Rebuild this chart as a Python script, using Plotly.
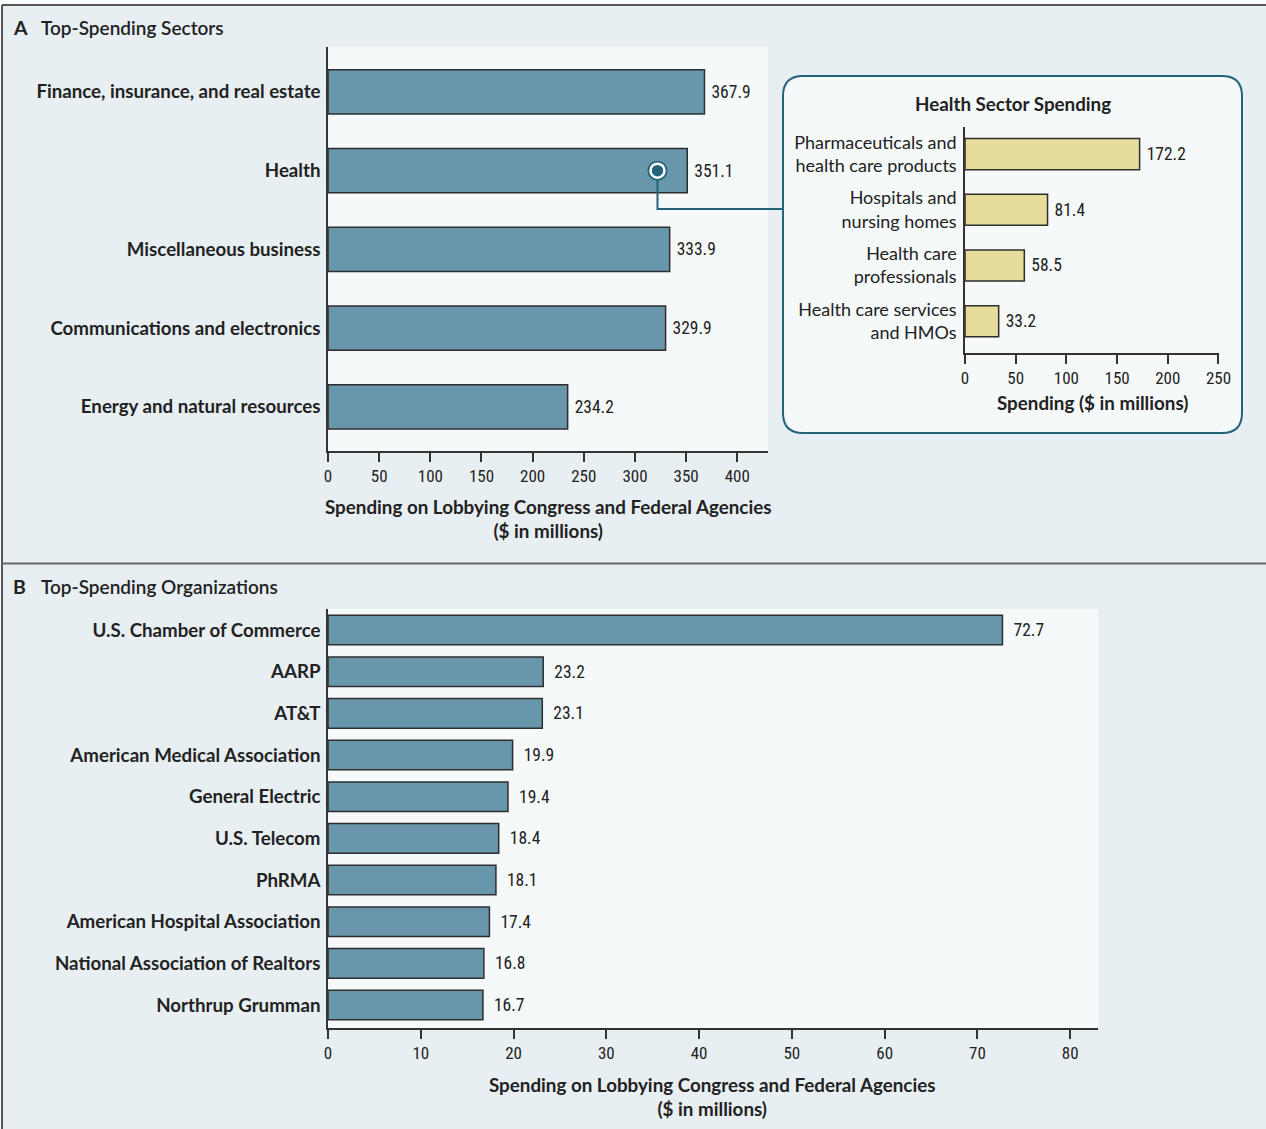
import plotly.graph_objects as go

# ---------------- data ----------------
sectors = ["Finance, insurance, and real estate", "Health", "Miscellaneous business",
           "Communications and electronics", "Energy and natural resources"]
sector_values = [367.9, 351.1, 333.9, 329.9, 234.2]

health_subsectors = ["Pharmaceuticals and<br>health care products", "Hospitals and<br>nursing homes",
                     "Health care<br>professionals", "Health care services<br>and HMOs"]
health_values = [172.2, 81.4, 58.5, 33.2]

organizations = ["U.S. Chamber of Commerce", "AARP", "AT&T", "American Medical Association",
                 "General Electric", "U.S. Telecom", "PhRMA", "American Hospital Association",
                 "National Association of Realtors", "Northrup Grumman"]
org_values = [72.7, 23.2, 23.1, 19.9, 19.4, 18.4, 18.1, 17.4, 16.8, 16.7]

sector_ticks = [0, 50, 100, 150, 200, 250, 300, 350, 400]
health_ticks = [0, 50, 100, 150, 200, 250]
org_ticks = [0, 10, 20, 30, 40, 50, 60, 70, 80]

health_marker_x = 322  # position of the callout circle on the Health bar

# ---------------- styles ----------------
W, H = 1266, 1129
BG = "#e8eff2"
PLOT_BG = "#f6f9fa"
BAR = "#6896ab"
BAR_EDGE = "#2e2e2e"
KHAKI = "#e6dc9c"
TEAL = "#23647a"
TXT = "#222222"
LABEL_FONT = "Lato"
NUM_FONT = "Liberation Sans Narrow, Roboto Condensed, Lato"


def px(x):
    return x / W


def py(y):
    return 1 - y / H


fig = go.Figure()

fig.add_trace(go.Bar(
    x=sector_values, y=sectors, orientation="h", xaxis="x", yaxis="y",
    marker=dict(color=BAR, line=dict(color=BAR_EDGE, width=1.5)),
    width=0.56,
    text=["\u00a0" + f"{v:.1f}" for v in sector_values], textposition="outside",
    outsidetextfont=dict(family=NUM_FONT, size=17.5, color=TXT),
    cliponaxis=False, constraintext="none", hoverinfo="skip",
))

fig.add_trace(go.Bar(
    x=health_values, y=health_subsectors, orientation="h", xaxis="x2", yaxis="y2",
    marker=dict(color=KHAKI, line=dict(color=BAR_EDGE, width=1.5)),
    width=0.56,
    text=["\u00a0" + f"{v:.1f}" for v in health_values], textposition="outside",
    outsidetextfont=dict(family=NUM_FONT, size=17.5, color=TXT),
    cliponaxis=False, constraintext="none", hoverinfo="skip",
))

fig.add_trace(go.Bar(
    x=org_values, y=organizations, orientation="h", xaxis="x3", yaxis="y3",
    marker=dict(color=BAR, line=dict(color=BAR_EDGE, width=1.5)),
    width=0.71,
    text=["\u00a0\u00a0" + f"{v:.1f}" for v in org_values], textposition="outside",
    outsidetextfont=dict(family=NUM_FONT, size=17.5, color=TXT),
    cliponaxis=False, constraintext="none", hoverinfo="skip",
))

# callout circle on the Health bar
fig.add_trace(go.Scatter(
    x=[health_marker_x], y=["Health"], xaxis="x", yaxis="y", mode="markers",
    marker=dict(size=20, color=TEAL), hoverinfo="skip", cliponaxis=False,
))
fig.add_trace(go.Scatter(
    x=[health_marker_x], y=["Health"], xaxis="x", yaxis="y", mode="markers",
    marker=dict(size=14, color=TEAL, line=dict(color="white", width=2.5)),
    hoverinfo="skip", cliponaxis=False,
))

axis_common = dict(showgrid=False, zeroline=False, showline=True, linecolor="#333333",
                   linewidth=1.5, ticks="outside", ticklen=9, tickwidth=1.5,
                   tickcolor="#333333", fixedrange=True, automargin=False)
yaxis_common = dict(ticks="", showline=True, linecolor="#333333", linewidth=1.5,
                    showgrid=False, zeroline=False, fixedrange=True, automargin=False)

fig.update_layout(
    width=W, height=H, autosize=False, margin=dict(l=0, r=0, t=0, b=0, pad=0),
    paper_bgcolor=BG, plot_bgcolor=PLOT_BG, showlegend=False, bargap=0.3,
    xaxis=dict(domain=[px(328), px(768)], range=[0, 430], anchor="y",
               tickvals=sector_ticks, tickfont=dict(family=NUM_FONT, size=17, color=TXT),
               **axis_common),
    yaxis=dict(domain=[py(451), py(47)], range=[4.56, -0.57], anchor="x",
               tickfont=dict(family=LABEL_FONT, size=18.7, color=TXT, weight=700),
               ticklabelstandoff=2, **yaxis_common),
    xaxis2=dict(domain=[px(965), px(1219)], range=[0, 250.5], anchor="y2",
                tickvals=health_ticks, tickfont=dict(family=NUM_FONT, size=17, color=TXT),
                **axis_common),
    yaxis2=dict(domain=[py(353), py(127)], range=[3.57, -0.485], anchor="x2",
                tickfont=dict(family=LABEL_FONT, size=18, color=TXT),
                ticklabelstandoff=3, **yaxis_common),
    xaxis3=dict(domain=[px(328), px(1098)], range=[0, 83], anchor="y3",
                tickvals=org_ticks, tickfont=dict(family=NUM_FONT, size=17, color=TXT),
                **axis_common),
    yaxis3=dict(domain=[py(1028), py(609)], range=[9.552, -0.504], anchor="x3",
                tickfont=dict(family=LABEL_FONT, size=18.7, color=TXT, weight=700),
                ticklabelstandoff=2, **yaxis_common),
)

# ---------------- frame, inset box, connector ----------------
shapes = []
# white margins at top and left
shapes.append(dict(type="rect", xref="paper", yref="paper", x0=0, x1=1, y0=py(5), y1=1,
                   fillcolor="white", line=dict(width=0), layer="below"))
shapes.append(dict(type="rect", xref="paper", yref="paper", x0=0, x1=px(2), y0=0, y1=1,
                   fillcolor="white", line=dict(width=0), layer="below"))
# frame lines
shapes.append(dict(type="line", xref="paper", yref="paper", x0=px(2), x1=1, y0=py(5), y1=py(5),
                   line=dict(color="#555555", width=2)))
shapes.append(dict(type="line", xref="paper", yref="paper", x0=px(2), x1=px(2), y0=0, y1=py(5),
                   line=dict(color="#555555", width=2)))
shapes.append(dict(type="line", xref="paper", yref="paper", x0=px(2), x1=1, y0=py(563.5), y1=py(563.5),
                   line=dict(color="#666666", width=2)))

# rounded inset box
bx0, bx1, by0, by1, r = 783, 1242, 76, 433, 20
path = (f"M {px(bx0 + r)},{py(by0)} L {px(bx1 - r)},{py(by0)} "
        f"Q {px(bx1)},{py(by0)} {px(bx1)},{py(by0 + r)} "
        f"L {px(bx1)},{py(by1 - r)} Q {px(bx1)},{py(by1)} {px(bx1 - r)},{py(by1)} "
        f"L {px(bx0 + r)},{py(by1)} Q {px(bx0)},{py(by1)} {px(bx0)},{py(by1 - r)} "
        f"L {px(bx0)},{py(by0 + r)} Q {px(bx0)},{py(by0)} {px(bx0 + r)},{py(by0)} Z")
shapes.append(dict(type="path", xref="paper", yref="paper", path=path,
                   fillcolor=PLOT_BG, line=dict(color=TEAL, width=2), layer="below"))

# connector line from circle to inset box
cx = 328 + health_marker_x * (768 - 328) / 430
path2 = f"M {px(cx)},{py(180)} L {px(cx)},{py(209)} L {px(bx0)},{py(209)}"
shapes.append(dict(type="path", xref="paper", yref="paper", path=path2,
                   line=dict(color=TEAL, width=2), layer="above"))
fig.update_layout(shapes=shapes)

# ---------------- text annotations ----------------
ann = []
ann.append(dict(x=px(11), y=py(27), xref="paper", yref="paper", xanchor="left", yanchor="middle",
                text="<b>A</b>", showarrow=False,
                font=dict(family=LABEL_FONT, size=19.5, color=TXT, weight=800)))
ann.append(dict(x=px(39), y=py(27), xref="paper", yref="paper", xanchor="left", yanchor="middle",
                text="Top-Spending Sectors", showarrow=False,
                font=dict(family=LABEL_FONT, size=19, color=TXT, weight=600)))
ann.append(dict(x=px(11), y=py(586), xref="paper", yref="paper", xanchor="left", yanchor="middle",
                text="<b>B</b>", showarrow=False,
                font=dict(family=LABEL_FONT, size=19.5, color=TXT, weight=800)))
ann.append(dict(x=px(39), y=py(586), xref="paper", yref="paper", xanchor="left", yanchor="middle",
                text="Top-Spending Organizations", showarrow=False,
                font=dict(family=LABEL_FONT, size=19, color=TXT, weight=600)))
ann.append(dict(x=px(548), y=py(518), xref="paper", yref="paper", xanchor="center", yanchor="middle",
                text="Spending on Lobbying Congress and Federal Agencies<br>($ in millions)",
                showarrow=False, font=dict(family=LABEL_FONT, size=18.8, color=TXT, weight=700)))
ann.append(dict(x=px(712), y=py(1096), xref="paper", yref="paper", xanchor="center", yanchor="middle",
                text="Spending on Lobbying Congress and Federal Agencies<br>($ in millions)",
                showarrow=False, font=dict(family=LABEL_FONT, size=18.8, color=TXT, weight=700)))
ann.append(dict(x=px(1013), y=py(104), xref="paper", yref="paper", xanchor="center", yanchor="middle",
                text="Health Sector Spending", showarrow=False,
                font=dict(family=LABEL_FONT, size=18.8, color=TXT, weight=700)))
ann.append(dict(x=px(1092), y=py(402), xref="paper", yref="paper", xanchor="center", yanchor="middle",
                text="Spending ($ in millions)", showarrow=False,
                font=dict(family=LABEL_FONT, size=18.8, color=TXT, weight=700)))
fig.update_layout(annotations=ann)

fig.write_html("out.html",
               config={"responsive": False, "displayModeBar": False},
               post_script="document.body.style.margin='0px';document.body.style.overflow='hidden';")
